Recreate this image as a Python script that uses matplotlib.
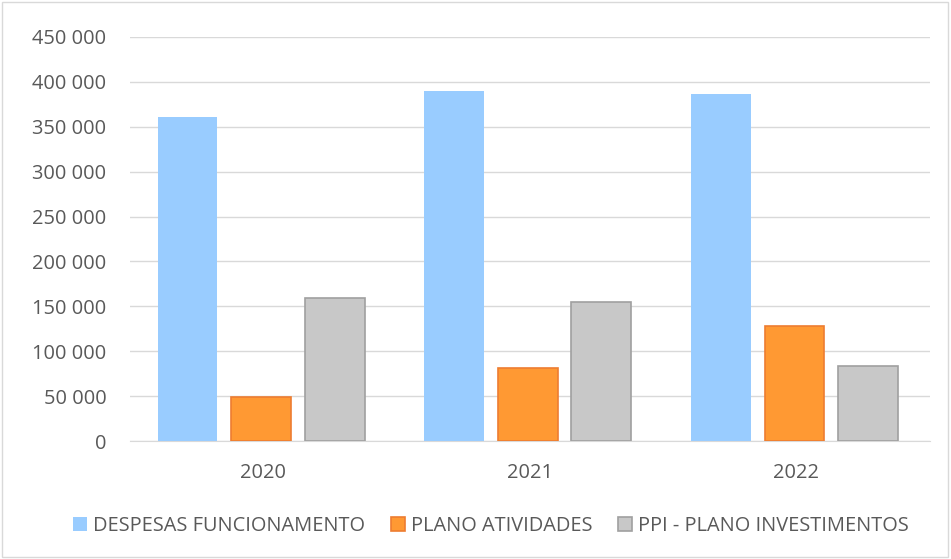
import matplotlib.pyplot as plt
import numpy as np
from matplotlib.ticker import FuncFormatter

years = ["2020", "2021", "2022"]
series = ["DESPESAS FUNCIONAMENTO", "PLANO ATIVIDADES", "PPI - PLANO INVESTIMENTOS"]
despesas = [361000, 389500, 386500]
atividades = [48700, 81000, 128500]
ppi = [159000, 155200, 83600]

plt.rcParams['font.family'] = ['Open Sans', 'DejaVu Sans']

fig = plt.figure(figsize=(9.51, 5.59), dpi=100)
ax = fig.add_axes([0.1367, 0.211, 0.841, 0.723])

x = np.arange(len(years))
w = 0.224
step = 0.276
faces = ["#99ccff", "#ff9933", "#c8c8c8"]
edges = ["#99ccff", "#ed7d31", "#a0a0a0"]
for i, (vals, name) in enumerate(zip([despesas, atividades, ppi], series)):
    ax.bar(x + (i - 1) * step - 0.008, vals, width=w, color=faces[i], edgecolor=edges[i],
           linewidth=1.2 if i else 0, label=name, zorder=3)

ax.set_xlim(-0.5, 2.5)
ax.set_ylim(0, 450000)
ax.set_yticks(np.arange(0, 450001, 50000))
ax.yaxis.set_major_formatter(FuncFormatter(lambda v, p: f"{int(v):,}".replace(",", " ")))
ax.set_xticks(x)
ax.set_xticklabels(years)
ax.grid(axis='y', color="#d9d9d9", linewidth=1, zorder=0)
for s in ["top", "right", "left"]:
    ax.spines[s].set_visible(False)
ax.spines["bottom"].set_color("#d9d9d9")
ax.tick_params(axis='both', length=0, labelsize=14.4, colors="#595959")
ax.tick_params(axis='y', pad=17)
ax.tick_params(axis='x', pad=16)

leg = fig.legend(loc="center", bbox_to_anchor=(0.516, 0.059), ncol=3, frameon=False,
                 fontsize=14.4, handlelength=0.7, handleheight=0.7, handletextpad=0.3,
                 columnspacing=1.3, labelcolor="#595959")

fig.patches.append(plt.Rectangle((0.002, 0.003), 0.995, 0.994, transform=fig.transFigure,
                                 fill=False, edgecolor="#d9d9d9", linewidth=1))

fig.savefig("out.png", dpi=100)
